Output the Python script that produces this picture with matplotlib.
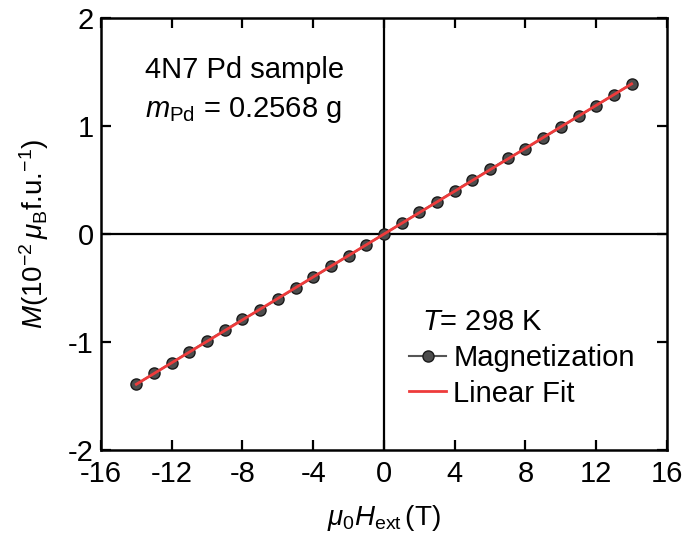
import matplotlib
matplotlib.use("Agg")
import matplotlib.pyplot as plt

field = [-14, -13, -12, -11, -10, -9, -8, -7, -6, -5, -4, -3, -2, -1, 0,
         1, 2, 3, 4, 5, 6, 7, 8, 9, 10, 11, 12, 13, 14]
magnet = [-1.39, -1.29, -1.19, -1.09, -0.99, -0.89, -0.79, -0.70, -0.60, -0.50,
          -0.40, -0.30, -0.20, -0.10, 0.00,
          0.10, 0.20, 0.30, 0.40, 0.50, 0.60, 0.70, 0.79, 0.89, 0.99, 1.09, 1.19, 1.29, 1.39]
fit_x = [-14, 14]
fit_y = [-1.39, 1.39]
xticks = [-16, -12, -8, -4, 0, 4, 8, 12, 16]
yticks = [-2, -1, 0, 1, 2]

plt.rcParams['font.family'] = ['Liberation Sans', 'DejaVu Sans']
plt.rcParams['mathtext.fontset'] = 'custom'
plt.rcParams['mathtext.rm'] = 'Liberation Sans'
plt.rcParams['mathtext.it'] = 'Liberation Sans:italic'
plt.rcParams['mathtext.bf'] = 'Liberation Sans:bold'
plt.rcParams['axes.unicode_minus'] = False

FS = 21

fig = plt.figure(figsize=(6.82, 5.45), dpi=100)
ax = fig.add_axes([0.148, 0.174, 0.830, 0.793])

ax.axhline(0, color='black', lw=1.6, zorder=1)
ax.axvline(0, color='black', lw=1.6, zorder=1)

ax.plot(field, magnet, '-o', color='#555555', mfc='#4d4d4d', mec='#1a1a1a',
        ms=8, mew=1.0, lw=1.5, label='Magnetization', zorder=3)
ax.plot(fit_x, fit_y, '-', color='#ee3b3b', lw=2, label='Linear Fit', zorder=4)

ax.set_xlim(-16, 16)
ax.set_ylim(-2, 2)
ax.set_xticks(xticks)
ax.set_yticks(yticks)
ax.tick_params(direction='in', length=7, width=1.6, labelsize=FS,
               top=True, right=True, pad=5)
ax.tick_params(axis='x', pad=7)
for s in ax.spines.values():
    s.set_linewidth(1.8)

ax.set_xlabel(r'$\mu_0H_{\rm ext}\,$(T)', fontsize=20, labelpad=11)
ax.set_ylabel(r'$M$(10$^{-2}\,\mu_{\rm B}$f.u.$^{-1}$)', fontsize=20, labelpad=12)

ax.text(0.078, 0.861, '4N7 Pd sample', transform=ax.transAxes, fontsize=FS,
        ha='left', va='baseline')
ax.text(0.078, 0.771, r'$m_{\rm Pd}$ = 0.2568 g', transform=ax.transAxes, fontsize=FS,
        ha='left', va='baseline')

ax.text(0.567, 0.296, r'$T$= 298 K', transform=ax.transAxes, fontsize=FS,
        ha='left', va='center')
ax.legend(loc='upper left', bbox_to_anchor=(0.545, 0.245), frameon=False,
          fontsize=FS, handlelength=1.25, handletextpad=0.25,
          borderpad=0, borderaxespad=0, labelspacing=0.25)

fig.savefig('out.png', dpi=100)
